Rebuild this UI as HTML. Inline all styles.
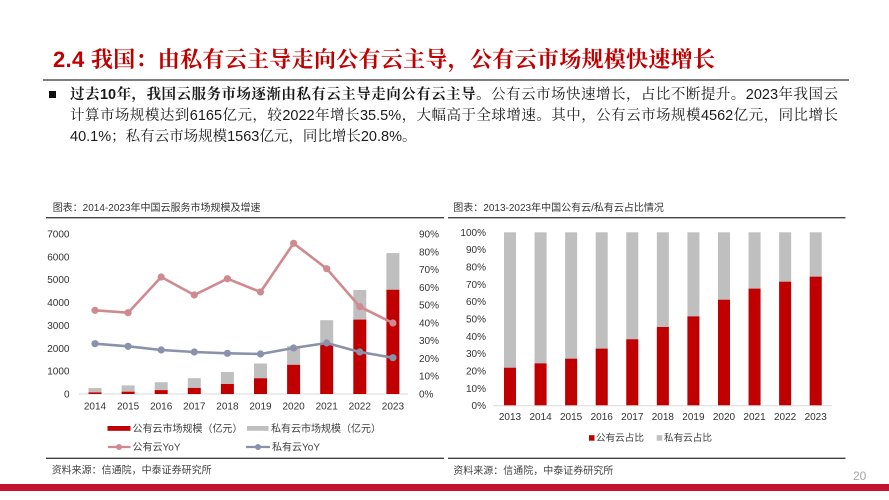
<!DOCTYPE html>
<html><head><meta charset="utf-8">
<style>
html,body{margin:0;padding:0;background:#fff;}
body{width:889px;height:500px;position:relative;overflow:hidden;font-family:"Liberation Sans","Noto Sans CJK SC",sans-serif;}
.abs{position:absolute;}
#title{left:53px;top:45px;line-height:30px;font-size:22px;color:#c00000;font-weight:bold;white-space:nowrap;letter-spacing:0.3px;font-family:"Liberation Sans","Noto Serif CJK SC",serif;}
#tline{left:43px;top:79px;width:806px;height:2px;background:#7f7f7f;}
#bullet{left:49px;top:91px;width:7px;height:7px;background:#111;}
.pl{position:absolute;left:70px;width:768px;font-size:14.5px;line-height:21px;height:21px;color:#1a1a1a;white-space:nowrap;font-family:"Liberation Sans","Noto Serif CJK SC",serif;}
.j{text-align:justify;text-align-last:justify;overflow:visible;}
b{font-weight:bold;}
#band{left:0;top:484px;width:889px;height:6.5px;background:#c4122f;}
#pg{left:853px;top:468px;font-size:12px;color:#a6a6a6;line-height:16px;}
</style></head>
<body>
<div id="title" class="abs">2.4 我国：由私有云主导走向公有云主导，公有云市场规模快速增长</div>
<div id="tline" class="abs"></div>
<div id="bullet" class="abs"></div>
<div class="pl j" style="top:84.5px"><b>过去10年，我国云服务市场逐渐由私有云主导走向公有云主导。</b>公有云市场快速增长，占比不断提升。2023年我国云</div>
<div class="pl j" style="top:106px">计算市场规模达到6165亿元，较2022年增长35.5%，大幅高于全球增速。其中，公有云市场规模4562亿元，同比增长</div>
<div class="pl" style="top:127px">40.1%；私有云市场规模1563亿元，同比增长20.8%。</div>

<svg class="abs" style="left:0;top:0" width="889" height="500" viewBox="0 0 889 500" font-family="Liberation Sans, Noto Sans CJK SC, sans-serif">
  <g font-size="10" fill="#333">
    <text x="52.7" y="211.2">图表：2014-2023年中国云服务市场规模及增速</text>
    <text x="453.3" y="211.2">图表：2013-2023年中国公有云/私有云占比情况</text>
    <text x="51.7" y="473.5" fill="#444">资料来源：信通院，中泰证券研究所</text>
    <text x="453.3" y="474" fill="#444">资料来源：信通院，中泰证券研究所</text>
  </g>
  <g stroke="#404040" stroke-width="1.3">
    <line x1="46" y1="217.7" x2="444" y2="217.7"/>
    <line x1="448" y1="217.7" x2="845.5" y2="217.7"/>
    <line x1="46" y1="458.3" x2="444" y2="458.3"/>
    <line x1="448" y1="458.3" x2="845.5" y2="458.3"/>
  </g>

  <g font-size="10" fill="#333" text-anchor="end">
    <text x="69.5" y="237.5">7000</text>
    <text x="69.5" y="260.3">6000</text>
    <text x="69.5" y="283.2">5000</text>
    <text x="69.5" y="306.1">4000</text>
    <text x="69.5" y="328.9">3000</text>
    <text x="69.5" y="351.8">2000</text>
    <text x="69.5" y="374.6">1000</text>
    <text x="69.5" y="397.5">0</text>
  </g>
  <g font-size="10" fill="#333">
    <text x="419" y="237.5">90%</text>
    <text x="419" y="255.3">80%</text>
    <text x="419" y="273.1">70%</text>
    <text x="419" y="290.8">60%</text>
    <text x="419" y="308.6">50%</text>
    <text x="419" y="326.4">40%</text>
    <text x="419" y="344.2">30%</text>
    <text x="419" y="362.0">20%</text>
    <text x="419" y="379.7">10%</text>
    <text x="419" y="397.5">0%</text>
  </g>
  <line x1="79" y1="394" x2="408" y2="394" stroke="#d9d9d9" stroke-width="1"/>
  <g fill="#bfbfbf">
    <rect x="88.5" y="388.06" width="13" height="4.34"/>
    <rect x="121.6" y="385.38" width="13" height="6.29"/>
    <rect x="154.7" y="382.23" width="13" height="7.88"/>
    <rect x="187.8" y="378.18" width="13" height="9.76"/>
    <rect x="220.9" y="372.01" width="13" height="12.0"/>
    <rect x="254" y="363.51" width="13" height="14.74"/>
    <rect x="287.1" y="346.21" width="13" height="18.6"/>
    <rect x="320.2" y="320.19" width="13" height="23.96"/>
    <rect x="353.3" y="290.0" width="13" height="29.58"/>
    <rect x="386.4" y="253.09" width="13" height="36.64"/>
  </g>
  <g fill="#c00000">
    <rect x="88.5" y="392.4" width="13" height="1.6"/>
    <rect x="121.6" y="391.67" width="13" height="2.33"/>
    <rect x="154.7" y="390.11" width="13" height="3.89"/>
    <rect x="187.8" y="387.94" width="13" height="6.06"/>
    <rect x="220.9" y="384.01" width="13" height="9.99"/>
    <rect x="254" y="378.25" width="13" height="15.75"/>
    <rect x="287.1" y="364.81" width="13" height="29.19"/>
    <rect x="320.2" y="344.15" width="13" height="49.85"/>
    <rect x="353.3" y="319.58" width="13" height="74.42"/>
    <rect x="386.4" y="289.73" width="13" height="104.27"/>
  </g>
  <polyline fill="none" stroke="#cf8a90" stroke-width="2.6" stroke-linejoin="round"
    points="95,310.3 128.1,312.7 161.2,277 194.3,295 227.4,278.7 260.5,292 293.6,243.3 326.7,268.7 359.8,306.7 392.9,323"/>
  <g fill="#cf8a90">
    <circle cx="95" cy="310.3" r="3.6"/><circle cx="128.1" cy="312.7" r="3.6"/><circle cx="161.2" cy="277" r="3.6"/>
    <circle cx="194.3" cy="295" r="3.6"/><circle cx="227.4" cy="278.7" r="3.6"/><circle cx="260.5" cy="292" r="3.6"/>
    <circle cx="293.6" cy="243.3" r="3.6"/><circle cx="326.7" cy="268.7" r="3.6"/><circle cx="359.8" cy="306.7" r="3.6"/>
    <circle cx="392.9" cy="323" r="3.6"/>
  </g>
  <polyline fill="none" stroke="#8991ab" stroke-width="2.6" stroke-linejoin="round"
    points="95,343.7 128.1,346.3 161.2,350 194.3,352 227.4,353.3 260.5,354 293.6,348 326.7,343 359.8,352 392.9,357.7"/>
  <g fill="#8991ab">
    <circle cx="95" cy="343.7" r="3.6"/><circle cx="128.1" cy="346.3" r="3.6"/><circle cx="161.2" cy="350" r="3.6"/>
    <circle cx="194.3" cy="352" r="3.6"/><circle cx="227.4" cy="353.3" r="3.6"/><circle cx="260.5" cy="354" r="3.6"/>
    <circle cx="293.6" cy="348" r="3.6"/><circle cx="326.7" cy="343" r="3.6"/><circle cx="359.8" cy="352" r="3.6"/>
    <circle cx="392.9" cy="357.7" r="3.6"/>
  </g>
  <g font-size="10" fill="#333" text-anchor="middle">
    <text x="95" y="409.5">2014</text><text x="128.1" y="409.5">2015</text><text x="161.2" y="409.5">2016</text>
    <text x="194.3" y="409.5">2017</text><text x="227.4" y="409.5">2018</text><text x="260.5" y="409.5">2019</text>
    <text x="293.6" y="409.5">2020</text><text x="326.7" y="409.5">2021</text><text x="359.8" y="409.5">2022</text>
    <text x="392.9" y="409.5">2023</text>
  </g>
  <rect x="107.5" y="426" width="23" height="4.8" fill="#c00000"/>
  <rect x="247" y="426" width="21.5" height="4.8" fill="#bfbfbf"/>
  <line x1="108" y1="447" x2="130.5" y2="447" stroke="#cf8a90" stroke-width="2.2"/>
  <circle cx="119" cy="447" r="3" fill="#cf8a90"/>
  <line x1="246" y1="447" x2="270" y2="447" stroke="#8991ab" stroke-width="2.2"/>
  <circle cx="258" cy="447" r="3" fill="#8991ab"/>
  <g font-size="10" fill="#404040">
    <text x="132.5" y="431.8">公有云市场规模（亿元）</text>
    <text x="271" y="431.8">私有云市场规模（亿元）</text>
    <text x="132.5" y="450.5">公有云YoY</text>
    <text x="272" y="450.5">私有云YoY</text>
  </g>

  <g font-size="10" fill="#333" text-anchor="end">
    <text x="486" y="235.8">100%</text>
    <text x="486" y="253.1">90%</text>
    <text x="486" y="270.5">80%</text>
    <text x="486" y="287.8">70%</text>
    <text x="486" y="305.2">60%</text>
    <text x="486" y="322.5">50%</text>
    <text x="486" y="339.8">40%</text>
    <text x="486" y="357.2">30%</text>
    <text x="486" y="374.5">20%</text>
    <text x="486" y="391.9">10%</text>
    <text x="486" y="409.2">0%</text>
  </g>
  <g fill="#bfbfbf">
    <rect x="504" y="232.3" width="12" height="173.4"/>
    <rect x="534.57" y="232.3" width="12" height="173.4"/>
    <rect x="565.14" y="232.3" width="12" height="173.4"/>
    <rect x="595.71" y="232.3" width="12" height="173.4"/>
    <rect x="626.28" y="232.3" width="12" height="173.4"/>
    <rect x="656.85" y="232.3" width="12" height="173.4"/>
    <rect x="687.42" y="232.3" width="12" height="173.4"/>
    <rect x="717.99" y="232.3" width="12" height="173.4"/>
    <rect x="748.56" y="232.3" width="12" height="173.4"/>
    <rect x="779.13" y="232.3" width="12" height="173.4"/>
    <rect x="809.7" y="232.3" width="12" height="173.4"/>
  </g>
  <g fill="#c00000">
    <rect x="504" y="367.73" width="12" height="37.97"/>
    <rect x="534.57" y="363.39" width="12" height="42.31"/>
    <rect x="565.14" y="358.71" width="12" height="46.99"/>
    <rect x="595.71" y="348.65" width="12" height="57.05"/>
    <rect x="626.28" y="339.29" width="12" height="66.41"/>
    <rect x="656.85" y="326.98" width="12" height="78.72"/>
    <rect x="687.42" y="316.4" width="12" height="89.3"/>
    <rect x="717.99" y="299.75" width="12" height="105.95"/>
    <rect x="748.56" y="288.65" width="12" height="117.05"/>
    <rect x="779.13" y="281.72" width="12" height="123.98"/>
    <rect x="809.7" y="276.69" width="12" height="129.01"/>
  </g>
  <line x1="493" y1="405.7" x2="832" y2="405.7" stroke="#d9d9d9" stroke-width="1"/>
  <g font-size="10" fill="#333" text-anchor="middle">
    <text x="510" y="420.2">2013</text><text x="540.57" y="420.2">2014</text><text x="571.14" y="420.2">2015</text>
    <text x="601.71" y="420.2">2016</text><text x="632.28" y="420.2">2017</text><text x="662.85" y="420.2">2018</text>
    <text x="693.42" y="420.2">2019</text><text x="723.99" y="420.2">2020</text><text x="754.56" y="420.2">2021</text>
    <text x="785.13" y="420.2">2022</text><text x="815.7" y="420.2">2023</text>
  </g>
  <rect x="589" y="435.2" width="5.5" height="5.5" fill="#c00000"/>
  <rect x="656.7" y="435.2" width="5.5" height="5.5" fill="#bfbfbf"/>
  <g font-size="9.6" fill="#404040">
    <text x="596" y="441.2">公有云占比</text>
    <text x="664" y="441.2">私有云占比</text>
  </g>
</svg>

<div id="pg" class="abs">20</div>
<div id="band" class="abs"></div>
</body></html>
